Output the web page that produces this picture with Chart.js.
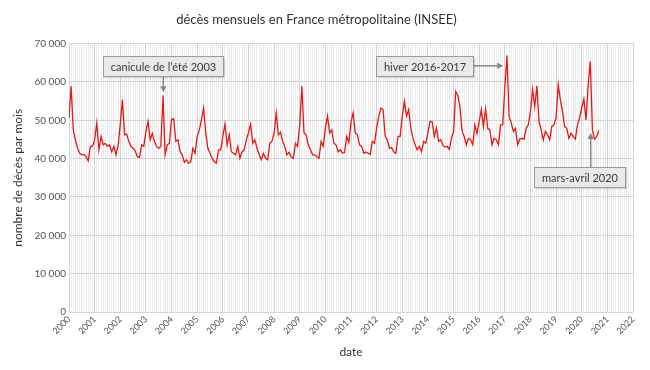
<!DOCTYPE html>
<html>
<head>
<meta charset="utf-8">
<script src="https://cdn.jsdelivr.net/npm/chart.js@4.4.1/dist/chart.umd.min.js"></script>
<style>
html,body{margin:0;padding:0;background:#fff;}
#c{display:block;}
</style>
</head>
<body>
<canvas id="c" width="650" height="370"></canvas>
<script>
// Monthly deaths, one value per month, plotted from 2000.0 in steps of 1/12 year
const y2000 = [50600,58900,47500,44900,42700,41400,41000,41100,40500,39400,43200,43200];
const y2001 = [44900,49300,42300,45800,43600,44000,43200,43600,41800,43200,41000,43600];
const y2002 = [48900,55400,46200,46400,44500,43200,42700,42000,40500,40300,43600,43200];
const y2003 = [47100,49700,44900,46600,44500,43200,42700,43200,56500,41000,43600,44000];
const y2004 = [50200,50400,44500,44900,41800,41000,39000,39700,38800,39200,42700,41400];
const y2005 = [45800,47500,50200,53200,46700,42700,41400,40100,39200,38800,42300,42300];
const y2006 = [45800,49000,43600,46200,41800,41400,41000,43200,40100,41800,42300,44900];
const y2007 = [46700,49000,44000,44900,42700,41000,39700,41400,40100,39700,44000,44500];
const y2008 = [46700,51900,46200,46900,44500,43200,41000,41700,40500,40100,44000,43200];
const y2009 = [48900,58900,46700,46200,43600,42300,41000,41000,40500,40100,44500,43200];
const y2010 = [48000,51100,46700,47500,44000,43600,41800,42300,41400,41600,45800,44200];
const y2011 = [49500,51900,46700,46200,43600,43200,41400,41700,41400,41100,44500,44000];
const y2012 = [48000,51100,53200,52800,45800,44900,42700,42900,41800,41400,45800,45800];
const y2013 = [51100,55000,51100,52800,48000,45400,43600,42300,43200,41800,44500,44000];
const y2014 = [46700,49700,49600,45800,48000,44500,44900,43500,43000,43200,42400,45300];
const y2015 = [47000,57500,56500,53500,47100,45800,43600,45300,44900,43600,48800,46600];
const y2016 = [49700,52800,48400,52900,47900,47500,43600,45300,44900,43600,48800,48800];
const y2017 = [58400,66900,51000,49300,47100,47900,43600,45100,45300,45100,47900,48800];
const y2018 = [52300,58000,53600,59000,49700,47500,44900,47100,46200,44900,48400,48800];
const y2019 = [50600,59300,55400,52300,48400,47900,45300,46600,45800,45100,48800,50600];
const y2020 = [53200,55500,50100,59000,65400,47500,45100,45800,47300];

const startYear = 2000;
const yearTicks = [2000,2001,2002,2003,2004,2005,2006,2007,2008,2009,2010,2011,2012,2013,2014,2015,2016,2017,2018,2019,2020,2021,2022];
const yTicks = [0,10000,20000,30000,40000,50000,60000,70000];

const titleText = 'décès mensuels en France métropolitaine (INSEE)';
const xTitle = 'date';
const yTitle = 'nombre de décès par mois';

// annotation labels: text, box centre (year, value), arrow tip (year, value)
const noteTexts = ['canicule de l\u2019été 2003', 'hiver 2016-2017', 'mars-avril 2020'];
const noteBoxX = [2003.67, 2013.85, 2019.93];
const noteBoxY = [64200, 64200, 35300];
const noteTipX = [2003.68, 2016.94, 2020.35];
const noteTipY = [57300, 64200, 46700];
const noteDir = ['down', 'right', 'up'];

const monthly = [].concat(y2000,y2001,y2002,y2003,y2004,y2005,y2006,y2007,y2008,y2009,y2010,
  y2011,y2012,y2013,y2014,y2015,y2016,y2017,y2018,y2019,y2020);
const points = monthly.map((v, i) => ({x: startYear + i / 12, y: v}));

const firstYear = yearTicks[0], lastYear = yearTicks[yearTicks.length - 1];
const monthGrid = [];
for (let i = 0; i <= (lastYear - firstYear) * 12; i++) monthGrid.push(firstYear + i / 12);
const isYear = v => Math.abs(v - Math.round(v)) < 1e-6;

const FONT = 'Lato, "Open Sans", "DejaVu Sans", sans-serif';
const fmt = v => String(Math.round(v)).replace(/\B(?=(\d{3})+(?!\d))/g, ' ');

const notesPlugin = {
  id: 'notes',
  afterDatasetsDraw(chart) {
    const {ctx, scales: {x, y}} = chart;
    ctx.save();
    ctx.font = '11px ' + FONT;
    for (let i = 0; i < noteTexts.length; i++) {
      const tw = ctx.measureText(noteTexts[i]).width;
      const w = Math.round(tw + 15), h = 20;
      const cx = x.getPixelForValue(noteBoxX[i]);
      const cy = y.getPixelForValue(noteBoxY[i]);
      const bx = Math.round(cx - w / 2) + 0.5, by = Math.round(cy - h / 2) + 0.5;
      const tx = x.getPixelForValue(noteTipX[i]);
      const ty = y.getPixelForValue(noteTipY[i]);
      let sx, sy;
      if (noteDir[i] === 'down') { sx = tx; sy = by + h; }
      else if (noteDir[i] === 'up') { sx = tx; sy = by; }
      else { sx = bx + w; sy = ty; }
      // arrow
      ctx.strokeStyle = '#858585';
      ctx.fillStyle = '#858585';
      ctx.lineWidth = 1.5;
      const ang = Math.atan2(ty - sy, tx - sx);
      const hl = 6;
      ctx.beginPath();
      ctx.moveTo(sx, sy);
      ctx.lineTo(tx - Math.cos(ang) * hl, ty - Math.sin(ang) * hl);
      ctx.stroke();
      ctx.beginPath();
      ctx.moveTo(tx, ty);
      ctx.lineTo(tx - Math.cos(ang) * hl - Math.sin(ang) * 3.2, ty - Math.sin(ang) * hl + Math.cos(ang) * 3.2);
      ctx.lineTo(tx - Math.cos(ang) * hl + Math.sin(ang) * 3.2, ty - Math.sin(ang) * hl - Math.cos(ang) * 3.2);
      ctx.closePath();
      ctx.fill();
      // box
      ctx.shadowColor = 'rgba(0,0,0,0.18)';
      ctx.shadowBlur = 2;
      ctx.shadowOffsetX = 1;
      ctx.shadowOffsetY = 1;
      ctx.fillStyle = '#e9e9e9';
      ctx.fillRect(bx, by, w, h);
      ctx.shadowColor = 'transparent';
      ctx.strokeStyle = '#9a9a9a';
      ctx.lineWidth = 1;
      ctx.strokeRect(bx, by, w, h);
      ctx.fillStyle = '#3a3a3a';
      ctx.textAlign = 'center';
      ctx.textBaseline = 'middle';
      ctx.fillText(noteTexts[i], bx + w / 2, by + h / 2 + 0.5);
    }
    ctx.restore();
  }
};

new Chart(document.getElementById('c'), {
  type: 'line',
  data: {
    datasets: [{
      data: points,
      borderColor: '#e0191b',
      borderWidth: 1.3,
      pointRadius: 0,
      tension: 0,
      fill: false
    }]
  },
  options: {
    responsive: false,
    animation: false,
    events: [],
    layout: {padding: {left: 0, right: 17, top: 0, bottom: 0}},
    plugins: {
      legend: {display: false},
      tooltip: {enabled: false},
      title: {
        display: true, text: titleText, color: '#333',
        font: {family: FONT, size: 13, weight: 'normal'},
        padding: {top: 12, bottom: 16}
      }
    },
    scales: {
      x: {
        type: 'linear', min: firstYear, max: lastYear,
        afterBuildTicks: s => { s.ticks = monthGrid.map(v => ({value: v})); },
        afterFit: s => { s.height = 58; },
        ticks: {
          autoSkip: false, minRotation: 45, maxRotation: 45,
          callback: v => isYear(v) ? String(yearTicks[Math.round(v) - firstYear]) : '',
          font: {family: FONT, size: 9}, color: '#555', padding: 2
        },
        grid: {
          drawTicks: false,
          color: c => (c.tick && isYear(c.tick.value)) ? '#d2d2d2' : '#ececec',
          lineWidth: 1
        },
        border: {display: false},
        title: {display: true, text: xTitle, color: '#333', font: {family: FONT, size: 12}, padding: {top: 0, bottom: 11}}
      },
      y: {
        min: yTicks[0], max: yTicks[yTicks.length - 1],
        afterBuildTicks: s => { s.ticks = yTicks.map(v => ({value: v})); },
        afterFit: s => { s.width = 69; },
        ticks: {callback: v => fmt(v), font: {family: FONT, size: 10}, color: '#555', padding: 3},
        grid: {drawTicks: false, color: '#d4d4d4', lineWidth: 1},
        border: {display: false},
        title: {display: true, text: yTitle, color: '#333', font: {family: FONT, size: 12}, padding: {top: 11, bottom: 0}}
      }
    }
  },
  plugins: [notesPlugin]
});
</script>
</body>
</html>
